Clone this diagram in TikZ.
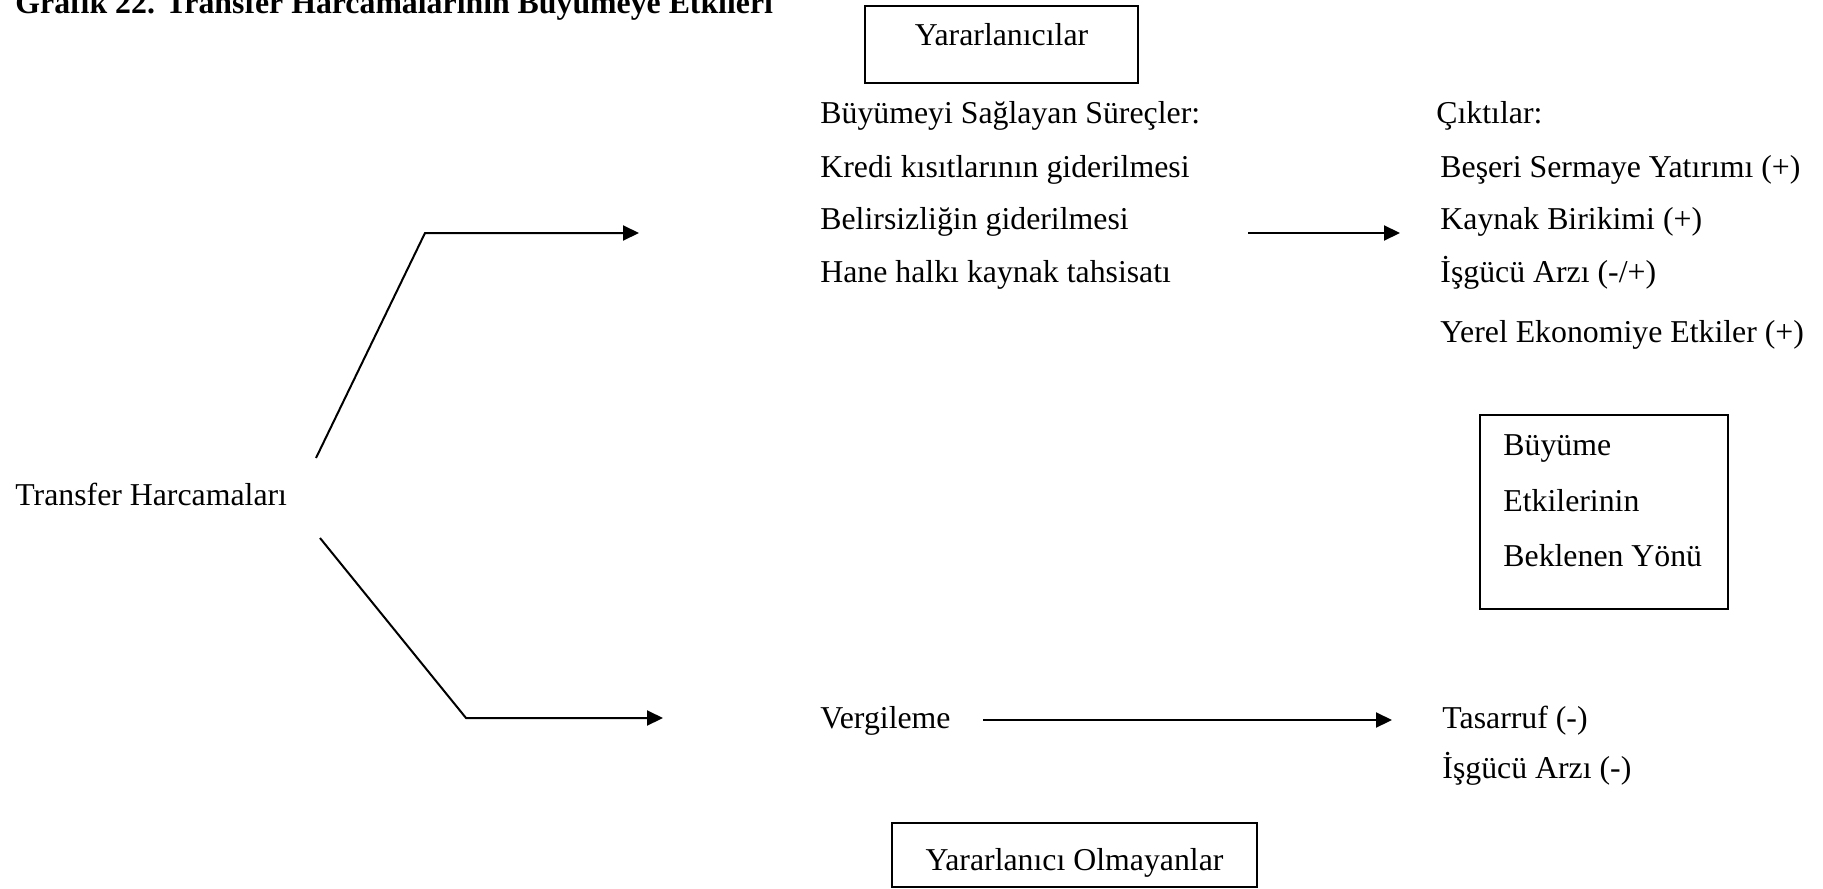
\documentclass[tikz,border=0pt]{standalone}
\usepackage{fontspec}
\setmainfont{Liberation Serif}
\usetikzlibrary{arrows.meta}
\begin{document}
\begin{tikzpicture}[x=0.5pt,y=-0.5pt,
  metin/.style={anchor=base west,inner sep=0pt,font=\fontsize{15.9}{19}\selectfont},
  kutu/.style={draw,line width=0.75pt,inner sep=0pt,font=\fontsize{15.9}{19}\selectfont},
  ok/.style={line width=1pt,-{Triangle[length=8pt,width=7.5pt]}}]
\useasboundingbox (0,0) rectangle (1823,888);
\node[metin,font=\fontsize{15.9}{19}\selectfont\bfseries] (grafik) at (15,14) {Grafik 22. Transfer Harcamalarının Büyümeye Etkileri};
% kutular
\node[kutu,anchor=base,minimum width=136.5pt,text height=20pt,text depth=18.5pt] (yarar) at (1001.5,46) {Yararlanıcılar};
\node[kutu,anchor=base,minimum width=182.5pt,text height=23.5pt,text depth=8.5pt] (olmayan) at (1074.5,870) {Yararlanıcı Olmayanlar};
\node[kutu,anchor=north west,minimum width=124pt,minimum height=97pt] (yonkutu) at (1479,414) {};
\node[metin] (yon1) at (1503,455) {Büyüme};
\node[metin] (yon2) at (1503,511) {Etkilerinin};
\node[metin] (yon3) at (1503,566) {Beklenen Yönü};
% metinler
\node[metin] (transfer) at (15,505) {Transfer Harcamaları};
\node[metin] (surec) at (820,123) {Büyümeyi Sağlayan Süreçler:};
\node[metin] (kredi) at (820,177) {Kredi kısıtlarının giderilmesi};
\node[metin] (belir) at (820,229) {Belirsizliğin giderilmesi};
\node[metin] (hane) at (820,282) {Hane halkı kaynak tahsisatı};
\node[metin] (cikti) at (1436,123) {Çıktılar:};
\node[metin] (beseri) at (1440,177) {Beşeri Sermaye Yatırımı (+)};
\node[metin] (kaynak) at (1440,229) {Kaynak Birikimi (+)};
\node[metin] (isgucu) at (1440,282) {İşgücü Arzı (-/+)};
\node[metin] (yerel) at (1440,342) {Yerel Ekonomiye Etkiler (+)};
\node[metin] (vergi) at (820,728) {Vergileme};
\node[metin] (tasarruf) at (1442,728) {Tasarruf (-)};
\node[metin] (isgucu2) at (1442,778) {İşgücü Arzı (-)};
% oklar
\coordinate (ust0) at (316,458);
\coordinate (ust1) at (425,233);
\coordinate (ust2) at (639,233);
\coordinate (alt0) at (320,538);
\coordinate (alt1) at (466,718);
\coordinate (alt2) at (663,718);
\coordinate (orta0) at (1248,233);
\coordinate (orta1) at (1400,233);
\coordinate (vok0) at (983,720);
\coordinate (vok1) at (1392,720);
\draw[ok] (ust0) -- (ust1) -- (ust2);
\draw[ok] (alt0) -- (alt1) -- (alt2);
\draw[ok] (orta0) -- (orta1);
\draw[ok] (vok0) -- (vok1);
\end{tikzpicture}
\end{document}
